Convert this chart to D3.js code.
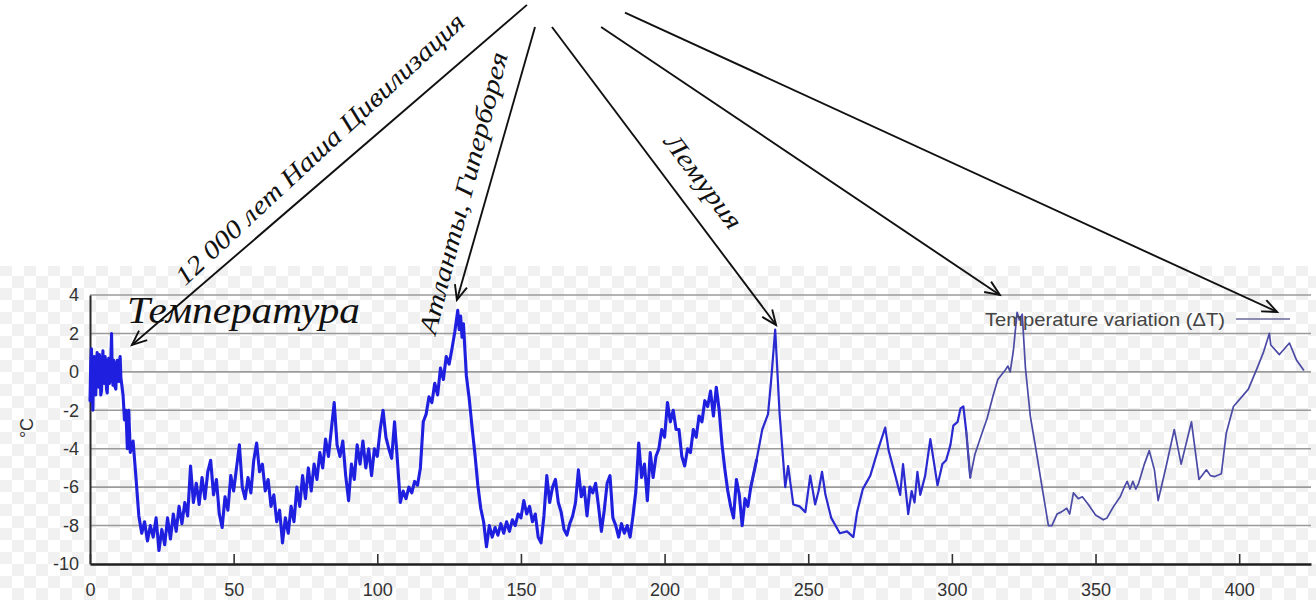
<!DOCTYPE html>
<html>
<head>
<meta charset="utf-8">
<script src="https://cdn.jsdelivr.net/npm/d3@7"></script>
<style>
body { margin: 0; background: #fff; }
svg { display: block; }
</style>
</head>
<body>
<script>
// ticks
var xTicks = [0, 50, 100, 150, 200, 250, 300, 350, 400]
var yTicks = [-10, -8, -6, -4, -2, 0, 2, 4]

// temperature variation, [thousand years ago, degC]
var vostok = [
  [0,-1.5],[0.25,0.4],[0.5,1.2],[0.75,-1.0],[1,-2.0],[1.25,0.2],[1.5,0.8],[1.75,-0.9],
  [2,-1.2],[2.25,0.5],[2.5,1.0],[2.75,-0.3],[3,-0.8],[3.25,0.9],[3.5,0.6],[3.75,-1.2],
  [4,-1.0],[4.25,0.3],[4.5,1.1],[4.75,-0.5],[5,-0.6],[5.25,0.8],[5.5,0.5],[5.75,-0.9],
  [6,-1.1],[6.25,0.2],[6.5,0.7],[6.75,-0.6],[7,-0.4],[7.25,0.6],[7.5,2.0],[7.75,-0.2],
  [8,-0.7],[8.25,0.6],[8.5,0.3],[8.75,-0.8],[9,-0.9],[9.25,0.4],[9.5,0.6],[9.75,-0.4],
  [10,-0.5],[10.25,0.5],[10.5,0.8],[10.75,-0.3],[11,-0.6],
  [11.5,-1.2],[12,-2.5],[12.5,-2.0],[13,-4.0],[13.5,-2.0],[14,-4.2],[15,-3.6],[16,-5.5],
  [17,-7.5],[18,-8.4],[19,-7.8],[20,-8.8],[21,-8.0],[22,-8.6],[23,-7.6],[24,-9.3],
  [25,-8.2],[26,-9.0],[27,-7.6],[28,-8.7],[29,-7.4],[30,-8.3],[31,-7.0],[32,-7.9],
  [33,-6.8],[34,-7.5],[35,-4.9],[36,-6.8],[37,-5.8],[38,-6.9],[39,-5.5],[40,-6.6],
  [41,-5.2],[42,-4.6],[43,-6.4],[44,-5.6],[45,-7.4],[46,-8.1],[47,-6.5],[48,-7.2],
  [49,-5.4],[50,-6.2],[51,-5.0],[52,-3.8],[53,-6.0],[54,-6.6],[55,-5.5],[56,-6.3],
  [57,-4.6],[58,-3.7],[59,-5.2],[60,-4.8],[61,-6.2],[62,-5.6],[63,-7.0],[64,-6.4],
  [65,-7.8],[66,-7.2],[67,-8.9],[68,-7.6],[69,-8.4],[70,-7.0],[71,-7.8],[72,-6.0],
  [73,-7.0],[74,-5.4],[75,-6.6],[76,-5.0],[77,-6.2],[78,-4.8],[79,-5.6],[80,-4.2],
  [81,-5.0],[82,-3.5],[83,-4.4],[84,-3.0],[85,-1.6],[86,-3.8],[87,-4.4],[88,-3.6],
  [89,-5.4],[90,-6.7],[91,-4.8],[92,-5.6],[93,-3.8],[94,-4.8],[95,-3.6],[96,-5.0],
  [97,-4.0],[98,-5.4],[99,-4.0],[100,-4.4],[101,-3.0],[102,-2.0],[103,-3.4],[104,-4.0],
  [105,-4.5],[106,-2.6],[107,-4.6],[108,-6.8],[109,-6.2],[110,-6.6],[111,-6.0],[112,-6.3],
  [113,-5.7],[114,-5.9],[115,-5.0],[116,-2.6],[117,-2.2],[118,-1.3],[119,-1.6],[120,-0.6],
  [121,-1.2],[122,0.2],[123,-0.4],[124,0.8],[125,0.4],[126,1.2],[127,2.1],[128,3.2],
  [128.5,2.2],[129,2.9],[129.5,1.8],[130,2.5],[131,-0.2],[132,-1.4],[133,-2.9],[134,-4.3],
  [135,-5.9],[136,-7.1],[137,-7.8],[138,-9.1],[139,-8.0],[140,-8.6],[141,-8.1],[142,-8.5],
  [143,-7.9],[144,-8.4],[145,-7.8],[146,-8.3],[147,-7.7],[148,-8.0],[149,-7.4],[150,-7.6],
  [151,-6.7],[152,-7.4],[153,-7.0],[154,-7.8],[155,-7.4],[156,-8.6],[157,-8.9],[158,-7.5],
  [159,-5.4],[160,-6.8],[161,-6.0],[162,-5.6],[163,-6.8],[164,-7.3],[165,-8.2],[166,-8.5],
  [167,-7.9],[168,-7.5],[169,-6.8],[170,-5.1],[171,-6.5],[172,-6.0],[173,-7.5],[174,-6.0],
  [175,-6.3],[176,-5.8],[177,-7.0],[178,-8.3],[179,-7.2],[180,-5.8],[181,-5.4],[182,-7.6],
  [183,-8.0],[184,-8.6],[185,-7.9],[186,-8.4],[187,-8.0],[188,-8.6],[189,-7.5],[190,-6.2],
  [191,-3.7],[192,-5.5],[193,-4.8],[194,-6.7],[195,-4.2],[196,-5.5],[197,-4.4],[198,-4.0],
  [199,-3.0],[200,-3.4],[201,-1.6],[202,-2.6],[203,-2.0],[204,-3.0],[205,-3.0],[206,-4.4],
  [207,-4.9],[208,-4.0],[209,-4.2],[210,-3.0],[211,-3.4],[212,-2.3],[213,-2.6],[214,-1.5],
  [215,-1.8],[216,-1.0],[217,-2.3],[218,-0.8],[219,-2.0],[220,-3.8],[221,-5.1],[222,-6.2],
  [223,-7.0],[224,-7.6],[225,-5.6],[226,-6.4],[227,-8.0],[228,-6.6],[229,-7.0],[230,-6.0],
  [232,-4.6],[234,-3.0],[236,-2.2],[237,-0.6],[238.5,2.2],[240,-2.1],[242,-6.0],[243,-4.9],
  [244.8,-6.9],[247,-7.0],[249,-7.3],[250.7,-5.4],[252.4,-6.9],[253.6,-6.2],[254.8,-5.2],[256,-6.4],
  [258,-7.6],[261,-8.4],[263.5,-8.3],[265.7,-8.6],[267,-7.3],[269,-6.1],[271.6,-5.4],[274.4,-4.0],
  [276.8,-2.9],[278,-4.1],[280.3,-5.4],[282,-6.4],[283,-4.8],[284.8,-7.4],[286,-6.2],[287,-6.8],
  [288,-5.2],[289,-6.4],[290.7,-5.4],[292.5,-3.5],[295,-5.9],[296.7,-4.8],[298,-4.6],[299.5,-3.8],
  [300.5,-2.8],[302,-2.6],[303,-1.9],[304,-1.8],[305,-3.1],[306.4,-5.5],[308,-4.3],[310,-3.4],
  [312.3,-2.4],[314.4,-1.2],[316,-0.4],[317,-0.2],[318.6,0.1],[319.5,0.3],[320.3,0.0],[321.4,1.1],
  [322.7,3.1],[323.5,2.7],[324.5,3.0],[325.6,0.2],[327.3,-2.3],[329,-3.8],[331.5,-6.1],[333.6,-8.0],
  [334.8,-8.0],[336.6,-7.4],[338,-7.3],[340,-7.1],[341,-7.4],[342.3,-6.3],[344,-6.6],[345.4,-6.5],
  [347.5,-6.9],[350,-7.45],[352.7,-7.7],[354,-7.6],[356.3,-7.0],[358.6,-6.5],[360,-6.0],[361,-5.7],
  [362,-6.1],[363,-5.7],[364,-6.1],[365,-5.8],[367,-4.8],[368.7,-4.1],[370.5,-5.1],[371.8,-6.7],
  [374.6,-4.9],[377.4,-3.0],[379.8,-4.8],[383.4,-2.6],[386,-5.6],[388.6,-5.1],[390,-5.4],[391.5,-5.45],
  [393.8,-5.3],[395.5,-3.2],[398,-1.8],[401.5,-1.2],[403.2,-0.9],[406,0.1],[408.4,1.0],[410.5,2.0],
  [411,1.4],[414,0.9],[417.5,1.5],[420,0.6],[422.4,0.1]
]

// the core is sampled much more densely near the present, so the old scan
// shows a thick band there and a thin line further back
var bands = [
  {from: 0, to: 232, color: "#1f1fe0", width: 3.1},
  {from: 230, to: 306.4, color: "#2a2ad0", width: 2.2},
  {from: 305, to: 430, color: "#4b4ba6", width: 1.7}
]

// annotation arrows, tail and tip in data units (tails sit above the plot)
var arrowTails = [[152.1, 19.1], [154.9, 17.95], [160.8, 17.95], [177.9, 17.95], [186.2, 18.7]]
var arrowTips = [[14.6, 1.4], [127.7, 3.74], [238.8, 2.44], [316.7, 4.0], [413.2, 3.12]]

// labels written along the arrows
var arrowLabels = ["12 000 лет Наша Цивилизация", "Атланты, Гиперборея", "Лемурия"]
var labelAt = [[82.1, 11.28], [132.9, 9.2], [211.1, 9.63]]
var labelAngle = [-43, -75.5, 53]
var labelLength = [385, 290, 112]

var chartTitle = "Температура"
var legendLabel = "Temperature variation (ΔT)"
var yLabel = "°C"

var W = 1316, H = 600

var svg = d3.select("body").append("svg")
    .attr("width", W)
    .attr("height", H)

// faint checker background of the lower half (scan of a transparent image)
var defs = svg.append("defs")
var pat = defs.append("pattern")
    .attr("id", "checker")
    .attr("width", 24).attr("height", 24)
    .attr("patternUnits", "userSpaceOnUse")
pat.append("rect").attr("width", 24).attr("height", 24).attr("fill", "#fff")
pat.append("rect").attr("width", 12).attr("height", 12).attr("fill", "#f1f1f1")
pat.append("rect").attr("x", 12).attr("y", 12).attr("width", 12).attr("height", 12).attr("fill", "#f1f1f1")

svg.append("rect")
    .attr("x", 0).attr("y", 266)
    .attr("width", W).attr("height", H - 266)
    .attr("fill", "url(#checker)")

var x = d3.scaleLinear().domain([0, 425]).range([90, 1311])
var y = d3.scaleLinear().domain([-10, 4]).range([564, 295])

// gridlines
svg.append("g")
    .selectAll("line")
    .data(yTicks.filter(function(d){ return d > -10 }))
    .join("line")
    .attr("x1", x(0)).attr("x2", x(425))
    .attr("y1", function(d){ return y(d) })
    .attr("y2", function(d){ return y(d) })
    .attr("stroke", "#9b9b9b")
    .attr("stroke-width", 1.6)

// x axis, ticks point inwards
var gx = svg.append("g")
    .attr("transform", "translate(0," + y(-10) + ")")
    .call(d3.axisBottom(x).tickValues(xTicks).tickSizeInner(-10).tickSizeOuter(0).tickPadding(19)
        .tickFormat(function(d){ return String(d) }))
gx.select(".domain").attr("stroke", "#1e1e1e").attr("stroke-width", 2.6)
gx.selectAll(".tick line").attr("stroke", "#333").attr("stroke-width", 1.6)
gx.selectAll(".tick text")
    .attr("fill", "#333")
    .style("font-family", "Liberation Sans, Arial, sans-serif")
    .style("font-size", "18px")

// y axis
var gy = svg.append("g")
    .attr("transform", "translate(" + x(0) + ",0)")
    .call(d3.axisLeft(y).tickValues(yTicks).tickSize(0).tickPadding(11)
        .tickFormat(function(d){ return String(d) }))
gy.select(".domain").attr("stroke", "#2a2a2a").attr("stroke-width", 2)
gy.selectAll(".tick text")
    .attr("fill", "#333")
    .style("font-family", "Liberation Sans, Arial, sans-serif")
    .style("font-size", "18px")

svg.append("text")
    .attr("transform", "translate(33,428) rotate(-90)")
    .attr("text-anchor", "middle")
    .attr("fill", "#333")
    .style("font-family", "Liberation Sans, Arial, sans-serif")
    .style("font-size", "18px")
    .text(yLabel)

// the series, one path per sampling band
var line = d3.line()
    .x(function(d){ return x(d[0]) })
    .y(function(d){ return y(d[1]) })

svg.append("g")
    .selectAll("path")
    .data(bands)
    .join("path")
    .attr("d", function(b){
        return line(vostok.filter(function(d){ return d[0] >= b.from && d[0] <= b.to }))
    })
    .attr("fill", "none")
    .attr("stroke", function(b){ return b.color })
    .attr("stroke-width", function(b){ return b.width })
    .attr("stroke-linejoin", "round")
    .attr("stroke-linecap", "round")

// legend
svg.append("text")
    .attr("x", 985).attr("y", 326)
    .attr("textLength", 240)
    .attr("lengthAdjust", "spacingAndGlyphs")
    .attr("fill", "#444")
    .style("font-family", "Liberation Sans, Arial, sans-serif")
    .style("font-size", "19px")
    .text(legendLabel)
svg.append("line")
    .attr("x1", 1236).attr("x2", 1290)
    .attr("y1", 319).attr("y2", 319)
    .attr("stroke", "#6a6a9c")
    .attr("stroke-width", 1.6)

// title inside the plot
svg.append("text")
    .attr("x", 127).attr("y", 323)
    .attr("textLength", 233)
    .attr("lengthAdjust", "spacingAndGlyphs")
    .attr("fill", "#111")
    .style("font-family", "Liberation Serif, Times New Roman, serif")
    .style("font-style", "italic")
    .style("font-size", "37px")
    .text(chartTitle)

// arrows
var ann = svg.append("g")
arrowTails.forEach(function(t, i){
    var x1 = x(t[0]), y1 = y(t[1])
    var x2 = x(arrowTips[i][0]), y2 = y(arrowTips[i][1])
    var a = Math.atan2(y2 - y1, x2 - x1)
    var len = 16, spread = 0.4
    ann.append("line")
        .attr("x1", x1).attr("y1", y1).attr("x2", x2).attr("y2", y2)
    ann.append("path")
        .attr("d", "M" + (x2 - len * Math.cos(a - spread)) + "," + (y2 - len * Math.sin(a - spread)) +
            "L" + x2 + "," + y2 +
            "L" + (x2 - len * Math.cos(a + spread)) + "," + (y2 - len * Math.sin(a + spread)))
        .attr("fill", "none")
})
ann.selectAll("line, path")
    .attr("stroke", "#111")
    .attr("stroke-width", 1.9)

arrowLabels.forEach(function(txt, i){
    svg.append("text")
        .attr("transform", "translate(" + x(labelAt[i][0]) + "," + y(labelAt[i][1]) + ") rotate(" + labelAngle[i] + ")")
        .attr("text-anchor", "middle")
        .attr("textLength", labelLength[i])
        .attr("lengthAdjust", "spacingAndGlyphs")
        .attr("fill", "#111")
        .style("font-family", "Liberation Serif, Times New Roman, serif")
        .style("font-style", "italic")
        .style("font-size", "26px")
        .text(txt)
})
</script>
</body>
</html>
